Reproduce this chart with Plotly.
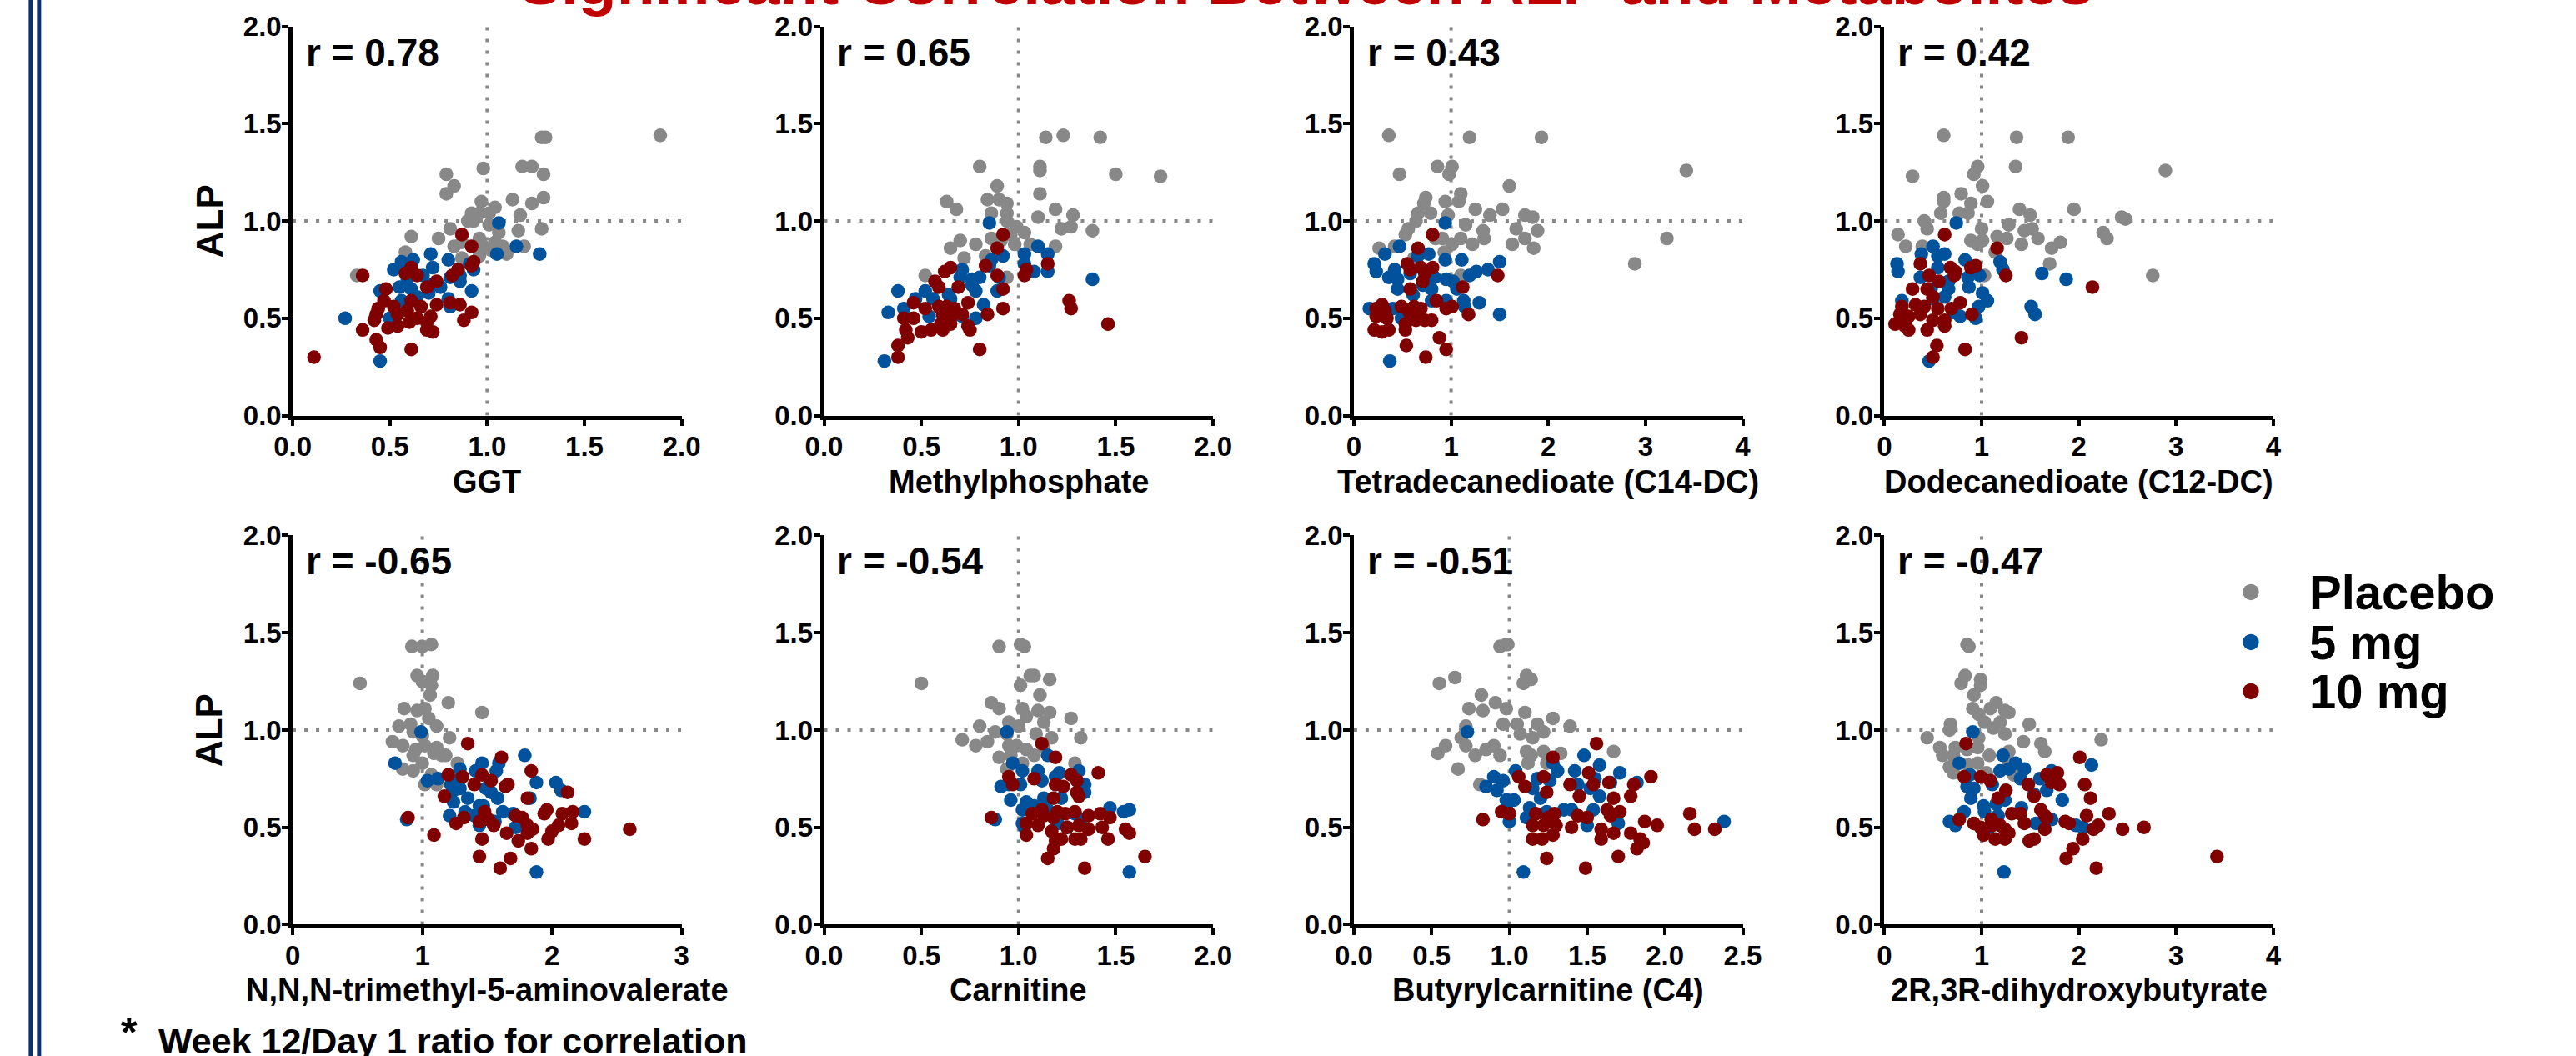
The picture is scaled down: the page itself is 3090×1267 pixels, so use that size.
import plotly.graph_objects as go

W, H = 3090, 1267
# The viewer shows the page slightly shrunk about its centre; positions below are
# given in picture pixels and mapped back into page pixels with these factors.
CX, CY = W / 2, H / 2
SX, SY = 0.986, 0.971

groups = ["Placebo", "5 mg", "10 mg"]
group_colors = ["#888888", "#00529C", "#800000"]
title_text = "Significant Correlation Between ALP and Metabolites"

metabolites = ["GGT", "Methylphosphate", "Tetradecanedioate (C14-DC)", "Dodecanedioate (C12-DC)",
               "N,N,N-trimethyl-5-aminovalerate", "Carnitine", "Butyrylcarnitine (C4)",
               "2R,3R-dihydroxybutyrate"]
r_labels = ["r = 0.78", "r = 0.65", "r = 0.43", "r = 0.42",
            "r = -0.65", "r = -0.54", "r = -0.51", "r = -0.47"]
x_max = [2, 2, 4, 4, 3, 2, 2.5, 4]
x_dtick = [0.5, 0.5, 1, 1, 1, 0.5, 0.5, 1]
y_ticks = [0.0, 0.5, 1.0, 1.5, 2.0]
ref_value = 1.0

# ---- GGT ----
ggt_pbo_x = [1.89,1.28,1.30,0.98,1.18,1.23,1.29,0.79,0.83,0.79,0.97,1.13,1.29,1.23,1.04,0.92,0.96,1.01,1.17,0.90,0.93,1.28,1.16,0.81,1.01,1.06,0.61,0.75,0.83,0.87,0.96,0.98,1.08,1.10,1.19,0.58,0.87,1.02,1.04,0.33,0.96]
ggt_pbo_y = [1.44,1.43,1.43,1.27,1.28,1.28,1.24,1.24,1.18,1.14,1.10,1.11,1.12,1.09,1.07,1.04,1.04,1.04,1.03,1.00,1.00,0.96,0.95,0.96,0.98,0.94,0.92,0.91,0.87,0.89,0.91,0.87,0.87,0.83,0.87,0.84,0.81,0.85,0.89,0.72,0.82]
ggt_5mg_x = [1.06,1.15,1.27,1.05,0.71,0.80,0.56,0.62,0.72,0.52,0.91,0.93,0.86,0.81,0.67,0.55,0.61,0.45,0.76,0.92,0.64,0.80,0.81,0.56,0.50,0.27,0.45,0.70,0.59,0.86,0.71]
ggt_5mg_y = [0.99,0.87,0.83,0.83,0.83,0.80,0.79,0.80,0.76,0.75,0.78,0.75,0.72,0.71,0.72,0.66,0.65,0.64,0.66,0.64,0.61,0.60,0.56,0.59,0.50,0.50,0.28,0.63,0.70,0.69,0.67]
ggt_10mg_x = [0.87,0.92,0.93,0.92,0.85,0.82,0.36,0.58,0.61,0.64,0.74,0.69,0.48,0.47,0.52,0.44,0.61,0.66,0.59,0.74,0.81,0.86,0.92,0.88,0.43,0.42,0.54,0.54,0.64,0.60,0.71,0.69,0.72,0.36,0.49,0.43,0.45,0.61,0.11,0.69]
ggt_10mg_y = [0.93,0.87,0.79,0.77,0.75,0.72,0.72,0.73,0.76,0.72,0.69,0.66,0.65,0.59,0.56,0.55,0.59,0.56,0.54,0.57,0.58,0.57,0.53,0.49,0.52,0.49,0.52,0.46,0.50,0.48,0.51,0.44,0.43,0.44,0.45,0.39,0.35,0.34,0.30,0.48]

# ---- Methylphosphate ----
mp_pbo_x = [1.23,1.14,1.42,0.80,1.11,1.11,1.50,1.73,0.89,1.11,0.84,0.90,0.94,0.63,0.68,1.19,0.86,0.94,0.94,1.10,1.28,0.99,1.03,0.96,1.22,1.27,1.38,0.86,0.91,0.98,0.78,0.70,0.65,1.19,1.06,0.72,0.52,0.94,0.83]
mp_pbo_y = [1.44,1.43,1.43,1.28,1.28,1.26,1.24,1.23,1.18,1.14,1.11,1.11,1.09,1.10,1.06,1.06,1.04,1.04,1.00,1.02,1.03,0.97,0.94,0.93,0.96,0.97,0.95,0.91,0.90,0.88,0.88,0.90,0.86,0.87,0.88,0.81,0.72,0.71,0.82]
mp_5mg_x = [0.85,1.10,1.15,1.03,0.92,0.86,0.85,1.03,1.15,1.08,0.71,0.70,0.76,0.80,0.90,0.76,0.78,0.89,0.38,0.52,0.47,0.64,0.56,0.41,0.82,0.33,0.54,0.71,0.78,1.38,0.31,0.65]
mp_5mg_y = [0.99,0.87,0.83,0.83,0.82,0.80,0.77,0.78,0.74,0.74,0.75,0.71,0.70,0.71,0.71,0.67,0.64,0.64,0.64,0.64,0.60,0.62,0.60,0.55,0.57,0.53,0.51,0.51,0.50,0.70,0.28,0.60]
mp_10mg_x = [0.92,0.89,1.15,1.04,1.03,0.83,0.89,0.65,0.62,0.57,0.59,0.69,0.92,0.92,0.84,0.74,0.46,0.59,0.63,0.52,0.67,0.46,0.41,0.61,0.65,0.71,0.60,0.65,0.74,0.75,0.50,0.55,0.61,0.42,0.43,0.38,0.38,0.80,1.26,1.27,1.46]
mp_10mg_y = [0.93,0.86,0.78,0.75,0.72,0.77,0.72,0.76,0.74,0.69,0.66,0.66,0.65,0.55,0.52,0.58,0.58,0.56,0.56,0.55,0.55,0.50,0.50,0.52,0.50,0.52,0.47,0.47,0.46,0.44,0.43,0.44,0.44,0.44,0.40,0.36,0.30,0.34,0.59,0.55,0.47]

# ---- Tetradecanedioate (C14-DC) ----
c14_pbo_x = [0.36,1.19,1.93,0.47,0.86,1.01,0.98,3.42,1.60,1.10,1.08,0.74,0.72,0.94,1.25,1.53,0.66,0.79,0.97,1.40,1.76,1.84,0.64,0.56,1.15,0.53,1.67,1.89,1.33,1.34,0.91,0.84,1.10,1.01,1.76,1.63,1.85,1.22,0.26,0.42,0.93,0.62,3.22,2.89,1.10]
c14_pbo_y = [1.44,1.43,1.43,1.24,1.28,1.28,1.24,1.26,1.18,1.14,1.10,1.12,1.09,1.10,1.06,1.06,1.04,1.04,1.03,1.03,1.03,1.02,1.00,0.96,0.98,0.93,0.96,0.95,0.95,0.91,0.91,0.91,0.91,0.88,0.91,0.88,0.86,0.88,0.86,0.87,0.84,0.81,0.91,0.78,0.72]
c14_5mg_x = [0.94,0.47,0.77,0.66,0.32,0.21,0.23,0.94,1.11,1.50,0.42,0.36,0.45,0.58,0.83,0.95,1.02,1.06,1.19,1.26,1.38,0.45,0.71,0.80,0.61,0.80,0.95,1.13,1.14,1.29,0.16,0.40,0.49,1.50,0.37]
c14_5mg_y = [0.99,0.87,0.83,0.82,0.83,0.78,0.74,0.80,0.80,0.79,0.75,0.71,0.70,0.73,0.71,0.70,0.69,0.65,0.72,0.74,0.75,0.65,0.67,0.65,0.62,0.59,0.59,0.59,0.56,0.58,0.55,0.55,0.50,0.52,0.28]
c14_10mg_x = [0.81,0.66,0.55,0.58,0.69,0.81,0.73,0.71,0.58,1.48,1.12,0.85,0.29,0.23,0.32,0.49,0.62,0.69,0.58,0.56,0.95,1.01,1.18,0.23,0.34,0.64,0.80,0.73,0.21,0.29,0.36,0.53,0.53,0.88,0.54,0.95,0.74]
c14_10mg_y = [0.93,0.86,0.78,0.75,0.76,0.76,0.73,0.69,0.65,0.72,0.66,0.59,0.57,0.55,0.54,0.56,0.56,0.55,0.52,0.54,0.55,0.56,0.52,0.51,0.50,0.49,0.49,0.49,0.44,0.43,0.44,0.47,0.44,0.40,0.36,0.34,0.30]

# ---- Dodecanedioate (C12-DC) ----
c12_pbo_x = [0.61,1.36,1.89,0.29,0.96,0.92,1.35,2.89,1.01,0.79,0.61,0.61,1.06,0.89,1.39,1.95,0.58,0.77,0.86,1.50,2.44,2.48,0.41,0.44,1.00,1.28,0.14,1.44,1.52,2.25,2.29,1.16,1.26,1.58,0.89,1.01,0.96,1.81,1.41,1.72,0.22,0.39,1.14,1.70,2.76,1.03]
c12_pbo_y = [1.44,1.43,1.43,1.23,1.28,1.24,1.28,1.26,1.18,1.14,1.12,1.10,1.10,1.09,1.06,1.06,1.04,1.04,1.04,1.03,1.02,1.01,1.00,0.96,0.96,0.98,0.93,0.95,0.96,0.94,0.91,0.92,0.91,0.91,0.90,0.90,0.88,0.89,0.88,0.86,0.87,0.87,0.84,0.78,0.72,0.72]
c12_5mg_x = [0.74,0.50,0.38,0.62,0.55,0.13,0.14,0.83,1.19,1.22,0.55,0.37,1.62,1.87,0.98,0.86,0.87,0.66,0.66,1.01,1.06,0.48,0.62,0.97,0.94,1.51,1.55,0.18,0.78,0.71,0.46,0.50]
c12_5mg_y = [0.99,0.87,0.83,0.83,0.82,0.78,0.74,0.80,0.79,0.75,0.76,0.71,0.73,0.70,0.72,0.71,0.66,0.69,0.65,0.63,0.59,0.65,0.61,0.56,0.50,0.56,0.52,0.59,0.51,0.53,0.28,0.60]
c12_10mg_x = [0.62,1.16,0.37,0.68,0.73,0.72,0.89,0.94,1.25,0.46,0.56,0.29,0.44,2.14,0.50,0.78,0.18,0.32,0.41,0.55,0.69,0.16,0.25,0.37,0.50,0.62,0.90,0.11,0.21,0.25,0.44,0.62,1.41,0.54,0.83,0.50]
c12_10mg_y = [0.93,0.86,0.78,0.76,0.74,0.72,0.76,0.77,0.72,0.72,0.69,0.65,0.65,0.66,0.61,0.58,0.56,0.57,0.56,0.55,0.55,0.52,0.51,0.52,0.49,0.49,0.52,0.47,0.46,0.44,0.44,0.46,0.40,0.36,0.34,0.30]

# ---- N,N,N-trimethyl-5-aminovalerate ----
tmav_pbo_x = [0.92,1.00,1.07,0.52,0.96,1.08,1.00,1.07,1.06,1.20,1.46,0.86,0.96,1.02,1.05,1.11,0.82,0.91,0.93,1.00,1.21,0.77,0.85,0.95,1.02,1.11,1.15,1.09,1.18,0.93,1.00,0.85,0.93,1.27,1.02,1.11,1.07]
tmav_pbo_y = [1.43,1.43,1.44,1.24,1.28,1.28,1.25,1.23,1.18,1.14,1.09,1.11,1.10,1.11,1.06,1.02,1.02,1.03,0.99,0.97,0.96,0.94,0.92,0.90,0.92,0.91,0.87,0.88,0.87,0.87,0.83,0.80,0.79,0.83,0.72,0.72,0.77]
tmav_5mg_x = [0.99,1.79,0.79,1.46,1.57,1.59,1.29,1.41,1.04,1.12,1.22,1.29,1.88,2.03,2.07,1.24,1.29,1.49,1.53,1.24,1.35,1.58,1.47,1.83,1.33,1.44,1.21,2.25,1.70,1.56,1.44,1.72,0.88,1.88,1.40,1.62]
tmav_5mg_y = [0.99,0.87,0.83,0.83,0.79,0.83,0.80,0.79,0.74,0.75,0.72,0.75,0.73,0.73,0.69,0.69,0.70,0.70,0.68,0.63,0.65,0.65,0.61,0.65,0.58,0.61,0.56,0.58,0.57,0.53,0.51,0.50,0.54,0.27,0.56,0.58]
tmav_10mg_x = [1.35,1.61,1.20,1.31,1.46,1.53,1.40,1.66,1.64,1.84,2.12,1.17,1.81,1.96,1.94,2.16,2.08,2.15,0.89,1.32,1.48,1.51,1.44,1.72,1.77,1.26,1.55,1.81,1.85,1.81,2.05,2.00,2.60,1.65,1.97,2.25,1.74,1.46,1.09,1.84,1.44,1.68,1.60]
tmav_10mg_y = [0.93,0.86,0.77,0.76,0.77,0.74,0.72,0.72,0.71,0.79,0.68,0.66,0.65,0.59,0.57,0.58,0.57,0.52,0.55,0.55,0.58,0.54,0.53,0.56,0.55,0.52,0.51,0.51,0.49,0.47,0.51,0.48,0.49,0.47,0.44,0.44,0.43,0.44,0.46,0.39,0.35,0.34,0.29]

# ---- Carnitine ----
carn_pbo_x = [0.90,1.01,1.03,0.50,1.06,1.08,1.16,1.01,1.11,0.86,0.90,1.02,1.10,1.16,1.04,1.27,0.95,1.00,1.13,0.80,0.88,0.94,1.09,1.17,1.32,0.71,0.84,0.78,0.95,0.99,1.04,1.13,0.90,0.96,1.08,1.29,0.94,1.02]
carn_pbo_y = [1.43,1.44,1.43,1.24,1.28,1.28,1.26,1.23,1.18,1.14,1.11,1.11,1.10,1.09,1.07,1.06,1.04,1.02,1.04,1.02,0.99,0.98,0.98,0.96,0.96,0.95,0.94,0.92,0.92,0.92,0.90,0.91,0.86,0.87,0.87,0.83,0.80,0.83]
carn_5mg_x = [0.94,1.15,0.97,1.02,1.10,1.21,1.31,0.91,0.95,1.01,1.12,1.19,1.34,1.34,1.13,1.22,0.96,1.04,1.08,1.02,1.47,1.54,1.57,1.15,0.88,1.02,1.03,1.20,1.25,1.32,1.57,1.29]
carn_5mg_y = [0.99,0.87,0.83,0.79,0.79,0.78,0.79,0.71,0.72,0.72,0.74,0.76,0.72,0.68,0.65,0.65,0.64,0.63,0.61,0.59,0.60,0.58,0.59,0.59,0.54,0.52,0.50,0.52,0.50,0.54,0.27,0.57]
carn_10mg_x = [1.12,1.19,1.41,0.95,0.97,1.08,1.27,1.30,1.19,1.23,1.30,1.31,1.18,1.12,1.07,1.13,1.18,0.86,1.20,1.24,1.29,1.36,1.42,1.47,1.04,1.10,1.17,1.25,1.31,1.36,1.43,1.55,1.57,1.04,1.19,1.22,1.29,1.32,1.46,1.18,1.15,1.34,1.65]
carn_10mg_y = [0.93,0.86,0.78,0.76,0.72,0.75,0.77,0.74,0.72,0.71,0.68,0.66,0.65,0.59,0.57,0.56,0.55,0.55,0.58,0.57,0.58,0.56,0.57,0.55,0.52,0.51,0.48,0.50,0.51,0.49,0.50,0.49,0.47,0.46,0.43,0.44,0.44,0.44,0.44,0.39,0.34,0.29,0.35]

# ---- Butyrylcarnitine (C4) ----
c4_pbo_x = [0.94,0.98,0.99,0.55,0.65,1.11,1.09,1.14,0.82,0.91,0.98,0.74,0.83,1.10,1.18,1.28,0.96,1.05,0.72,1.39,1.07,1.15,1.22,0.69,0.72,0.59,0.54,0.78,0.85,0.90,0.94,1.11,1.14,1.22,1.33,1.67,0.67,1.12,0.81,1.24]
c4_pbo_y = [1.43,1.44,1.44,1.24,1.27,1.28,1.24,1.26,1.18,1.14,1.11,1.11,1.10,1.09,1.03,1.06,1.03,1.03,1.02,1.02,0.98,0.96,0.99,0.96,0.92,0.92,0.88,0.87,0.90,0.92,0.87,0.89,0.87,0.89,0.88,0.89,0.80,0.83,0.72,0.83]
c4_5mg_x = [0.73,1.48,1.58,1.28,1.31,1.04,1.42,1.71,0.90,0.96,1.18,1.26,0.85,0.92,1.44,1.52,1.55,1.65,1.82,1.15,1.58,0.98,1.03,1.20,1.13,0.98,1.35,1.40,1.54,1.11,1.00,1.24,1.50,1.70,2.38,1.09]
c4_5mg_y = [0.99,0.87,0.82,0.83,0.79,0.79,0.79,0.78,0.76,0.74,0.75,0.74,0.71,0.69,0.72,0.70,0.75,0.73,0.73,0.70,0.66,0.64,0.64,0.65,0.60,0.60,0.59,0.59,0.59,0.55,0.53,0.58,0.51,0.52,0.53,0.27]
c4_10mg_x = [1.56,1.28,1.91,1.06,1.10,1.22,1.51,1.39,1.54,1.64,1.80,1.24,1.45,1.67,1.78,0.95,1.00,0.83,1.17,1.25,1.29,1.44,1.50,1.63,1.65,1.71,2.16,1.87,1.95,1.15,1.22,1.30,1.40,1.59,1.67,1.78,1.84,2.19,2.32,1.15,1.21,1.28,1.59,1.86,1.82,1.70,1.24,1.49]
c4_10mg_y = [0.93,0.86,0.76,0.76,0.71,0.76,0.78,0.72,0.72,0.73,0.72,0.68,0.66,0.65,0.66,0.58,0.57,0.54,0.57,0.55,0.57,0.56,0.55,0.59,0.56,0.58,0.57,0.53,0.51,0.51,0.51,0.51,0.50,0.49,0.47,0.47,0.44,0.49,0.49,0.44,0.44,0.46,0.44,0.42,0.39,0.35,0.34,0.29]

# ---- 2R,3R-dihydroxybutyrate ----
dhb_pbo_x = [0.85,0.87,0.79,0.83,0.99,0.99,0.92,0.91,0.97,1.15,1.09,1.24,1.28,0.68,0.67,1.03,1.19,1.12,1.49,0.44,1.24,0.97,1.43,1.61,1.65,2.23,0.57,0.60,0.73,0.85,0.96,0.71,1.08,1.28,0.96,0.86,0.67,0.71,1.05,1.28,1.33]
dhb_pbo_y = [1.44,1.43,1.24,1.28,1.26,1.23,1.18,1.11,1.08,1.14,1.11,1.10,1.09,1.03,1.00,1.04,1.04,1.01,1.03,0.96,0.98,0.96,0.94,0.93,0.89,0.95,0.91,0.87,0.91,0.90,0.91,0.87,0.87,0.89,0.83,0.82,0.81,0.78,0.78,0.82,0.77]
dhb_5mg_x = [0.91,1.22,2.13,0.77,1.35,1.44,1.19,1.28,1.72,0.88,1.60,1.40,0.85,0.92,1.11,1.67,1.54,0.89,1.24,1.15,1.83,1.02,1.03,1.41,0.82,1.17,1.72,1.56,0.67,0.73,1.08,1.97,2.04,1.23]
dhb_5mg_y = [0.99,0.87,0.82,0.83,0.83,0.80,0.79,0.80,0.79,0.77,0.75,0.75,0.71,0.70,0.72,0.69,0.67,0.65,0.64,0.62,0.64,0.61,0.58,0.60,0.58,0.56,0.54,0.52,0.53,0.51,0.50,0.51,0.50,0.27]
dhb_10mg_x = [0.84,2.01,1.78,0.82,0.99,1.09,1.67,1.72,1.80,2.06,1.48,1.25,1.17,1.54,2.12,1.61,1.31,1.40,1.65,1.67,2.31,2.08,0.77,1.10,1.11,1.44,0.92,0.99,1.19,1.24,1.86,1.90,1.65,2.15,2.20,2.45,2.67,1.02,1.28,1.14,1.24,1.49,1.54,2.04,1.94,1.87,3.42,2.18]
dhb_10mg_y = [0.93,0.86,0.78,0.76,0.76,0.74,0.77,0.73,0.72,0.72,0.72,0.69,0.65,0.66,0.65,0.59,0.57,0.57,0.56,0.55,0.57,0.56,0.54,0.54,0.51,0.52,0.52,0.50,0.51,0.49,0.53,0.52,0.49,0.49,0.51,0.49,0.50,0.46,0.47,0.44,0.44,0.43,0.44,0.44,0.39,0.34,0.35,0.29]

panel_series = [
    [(ggt_pbo_x, ggt_pbo_y), (ggt_5mg_x, ggt_5mg_y), (ggt_10mg_x, ggt_10mg_y)],
    [(mp_pbo_x, mp_pbo_y), (mp_5mg_x, mp_5mg_y), (mp_10mg_x, mp_10mg_y)],
    [(c14_pbo_x, c14_pbo_y), (c14_5mg_x, c14_5mg_y), (c14_10mg_x, c14_10mg_y)],
    [(c12_pbo_x, c12_pbo_y), (c12_5mg_x, c12_5mg_y), (c12_10mg_x, c12_10mg_y)],
    [(tmav_pbo_x, tmav_pbo_y), (tmav_5mg_x, tmav_5mg_y), (tmav_10mg_x, tmav_10mg_y)],
    [(carn_pbo_x, carn_pbo_y), (carn_5mg_x, carn_5mg_y), (carn_10mg_x, carn_10mg_y)],
    [(c4_pbo_x, c4_pbo_y), (c4_5mg_x, c4_5mg_y), (c4_10mg_x, c4_10mg_y)],
    [(dhb_pbo_x, dhb_pbo_y), (dhb_5mg_x, dhb_5mg_y), (dhb_10mg_x, dhb_10mg_y)],
]

# ---------------- layout geometry (picture pixels) ----------------
FONT = "Liberation Sans, Arial, Helvetica, sans-serif"
col_left = [350, 988, 1624, 2261]
row_top = [32, 643]
PW, PH = 467, 467


def px_x(v):  # picture x -> paper x
    return (CX + (v - CX) / SX) / W


def px_y(v):  # picture y (from top) -> paper y
    return 1 - (CY + (v - CY) / SY) / H


fig = go.Figure()
annotations = []
shapes = []

for i in range(8):
    r, c = divmod(i, 4)
    n = "" if i == 0 else str(i + 1)
    left, top = col_left[c], row_top[r]
    tick_font = dict(family=FONT, size=33, color="black", weight="bold")
    xa = dict(
        domain=[px_x(left), px_x(left + PW)], anchor="y" + n,
        range=[0, x_max[i]], dtick=x_dtick[i], tick0=0,
        tickformat=".1f" if x_dtick[i] < 1 else "d",
        showline=True, linewidth=4.5, linecolor="black",
        ticks="outside", ticklen=8, tickwidth=4, tickcolor="black",
        ticklabelstandoff=-4,
        showgrid=False, zeroline=False, fixedrange=True, tickfont=tick_font,
    )
    ya = dict(
        domain=[px_y(top + PH), px_y(top)], anchor="x" + n,
        range=[0, 2], tickvals=y_ticks, tickformat=".1f",
        showline=True, linewidth=4.5, linecolor="black",
        ticks="outside", ticklen=8, tickwidth=4, tickcolor="black",
        ticklabelstandoff=-6,
        showgrid=False, zeroline=False, fixedrange=True, tickfont=tick_font,
    )
    fig.update_layout(**{"xaxis" + n: xa, "yaxis" + n: ya})

    dot = dict(color="#888888", width=4, dash="4px,10px")
    shapes.append(dict(type="line", xref="x" + n, yref="y" + n, x0=ref_value, x1=ref_value,
                       y0=0, y1=2, line=dot, layer="below"))
    shapes.append(dict(type="line", xref="x" + n, yref="y" + n, x0=0, x1=x_max[i],
                       y0=ref_value, y1=ref_value, line=dot, layer="below"))

    for g, (xs, ys) in enumerate(panel_series[i]):
        fig.add_trace(go.Scatter(
            x=xs, y=ys, mode="markers", xaxis="x" + n, yaxis="y" + n,
            name=groups[g], showlegend=False, hoverinfo="skip",
            marker=dict(size=16.5, color=group_colors[g], line=dict(width=0)),
        ))

    annotations.append(dict(
        text=r_labels[i], xref="paper", yref="paper",
        x=px_x(left + 14), y=px_y(top + 3), xanchor="left", yanchor="top",
        showarrow=False, font=dict(family=FONT, size=46, color="black", weight="bold"),
    ))
    annotations.append(dict(
        text=metabolites[i], xref="paper", yref="paper",
        x=px_x(left + PW / 2), y=px_y(top + PH + 79), xanchor="center", yanchor="middle",
        showarrow=False, font=dict(family=FONT, size=38, color="black", weight="bold"),
    ))
    if c == 0:
        annotations.append(dict(
            text="ALP", xref="paper", yref="paper", textangle=-90,
            x=px_x(250), y=px_y(top + PH / 2), xanchor="center", yanchor="middle",
            showarrow=False, font=dict(family=FONT, size=44, color="black", weight="bold"),
        ))

# title: only its lower part is inside the picture (cut off at the top edge)
annotations.append(dict(
    text=title_text, xref="paper", yref="paper",
    x=px_x(1567), y=px_y(23), xanchor="center", yanchor="bottom", showarrow=False,
    font=dict(family=FONT, size=75, color="#C00000", weight="bold"),
))

# footnote (cut off at the bottom edge)
annotations.append(dict(
    text="*", xref="paper", yref="paper", x=px_x(142), y=px_y(1210),
    xanchor="left", yanchor="top", showarrow=False,
    font=dict(family=FONT, size=50, color="black", weight="bold"),
))
annotations.append(dict(
    text="Week 12/Day 1 ratio for correlation", xref="paper", yref="paper",
    x=px_x(187), y=px_y(1224), xanchor="left", yanchor="top", showarrow=False,
    font=dict(family=FONT, size=43, color="black", weight="bold"),
))

legend_y = [711, 771, 830]
for g in range(3):
    shapes.append(dict(type="circle", xref="paper", yref="paper",
                       xsizemode="pixel", ysizemode="pixel",
                       xanchor=px_x(2701), yanchor=px_y(legend_y[g]),
                       x0=-9.7, x1=9.7, y0=-9.7, y1=9.7,
                       fillcolor=group_colors[g], line=dict(width=0)))
    annotations.append(dict(
        text=groups[g], xref="paper", yref="paper",
        x=px_x(2769), y=px_y(legend_y[g]), xanchor="left", yanchor="middle",
        showarrow=False, font=dict(family=FONT, size=58, color="black", weight="bold"),
    ))

# double border at the left, running the full picture height
for bx in [35.5, 45.5]:
    shapes.append(dict(type="line", xref="paper", yref="paper",
                       x0=px_x(bx), x1=px_x(bx), y0=px_y(H + 10), y1=px_y(-10),
                       line=dict(color="#0B326C", width=5)))

fig.update_layout(
    width=W, height=H, autosize=False,
    margin=dict(l=0, r=0, t=0, b=0, pad=0),
    paper_bgcolor="white", plot_bgcolor="rgba(0,0,0,0)",
    font=dict(family=FONT, color="black"),
    showlegend=False,
    annotations=annotations, shapes=shapes,
)

fig.write_html(
    "out.html", config={"displayModeBar": False},
    post_script=("document.documentElement.style.margin='0';"
                 "document.body.style.margin='0';"),
)
